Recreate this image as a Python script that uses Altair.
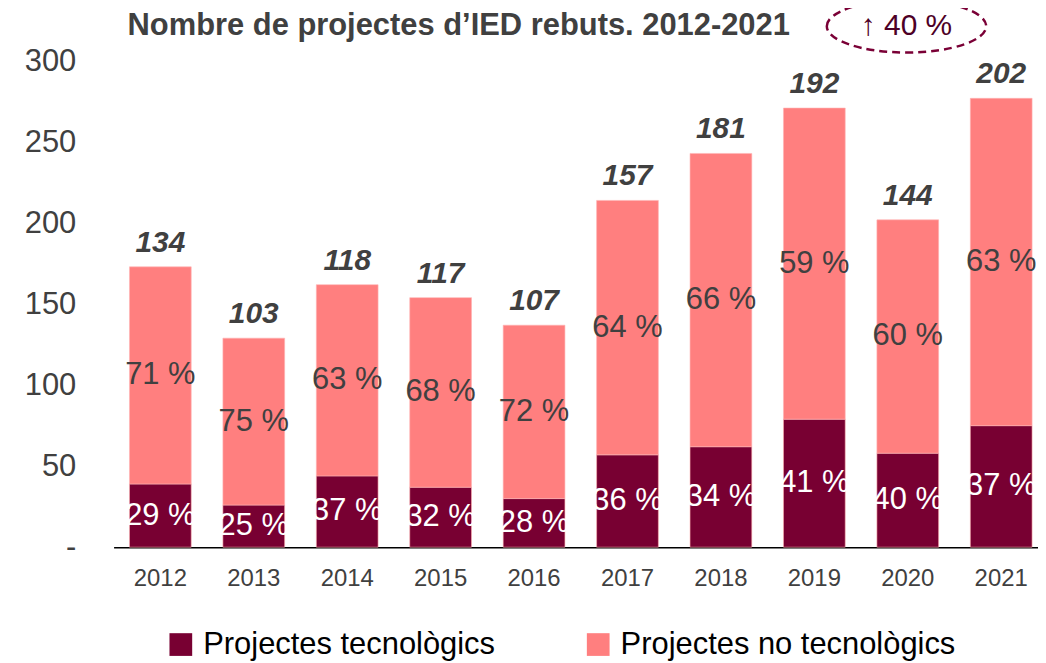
import altair as alt
import pandas as pd

years = ["2012", "2013", "2014", "2015", "2016", "2017", "2018", "2019", "2020", "2021"]
totals = [134, 103, 118, 117, 107, 157, 181, 192, 144, 202]
tech_counts = [39, 26, 44, 37, 30, 57, 62, 79, 58, 75]
tech_pct = ["29 %", "25 %", "37 %", "32 %", "28 %", "36 %", "34 %", "41 %", "40 %", "37 %"]
nontech_pct = ["71 %", "75 %", "63 %", "68 %", "72 %", "64 %", "66 %", "59 %", "60 %", "63 %"]
series_names = ["Projectes tecnològics", "Projectes no tecnològics"]
series_colors = ["#780032", "#ff7f7f"]
title_text = "Nombre de projectes d\u2019IED rebuts. 2012-2021"
badge_text = "\u2191 40 %"
y_ticks = [0, 50, 100, 150, 200, 250, 300]

FONT = "Liberation Sans"
GREY = "#404040"

rows = []
for yr, tot, tc, tp, npct in zip(years, totals, tech_counts, tech_pct, nontech_pct):
    rows.append({"year": yr, "series": series_names[0], "y0": 0, "y1": tc,
                 "mid": tc / 2, "pct": tp})
    rows.append({"year": yr, "series": series_names[1], "y0": tc, "y1": tc + tot,
                 "mid": tc + tot / 2, "pct": npct})
long_df = pd.DataFrame(rows)
tot_df = pd.DataFrame({"year": years, "total": totals,
                       "top": [a + b for a, b in zip(tech_counts, totals)]})

xscale = alt.Scale(domain=years, range=[0, 938], paddingInner=0.339, paddingOuter=0.17)
yscale = alt.Scale(domain=[0, 300], nice=False)

x_enc = alt.X("year:N", scale=xscale, sort=years,
              axis=alt.Axis(title=None, labelAngle=0, ticks=False, grid=False,
                            domainColor="#000000", domainWidth=1.5,
                            labelFontSize=24, labelColor=GREY, labelFont=FONT,
                            labelPadding=19))

bars = alt.Chart(long_df).mark_bar(stroke="#ffb3b3", strokeWidth=0.6).encode(
    x=x_enc,
    y=alt.Y("y1:Q", scale=yscale,
            axis=alt.Axis(title=None, values=y_ticks, grid=False, ticks=False, domain=False,
                          labelExpr="datum.value == 0 ? '-' : datum.label",
                          labelFontSize=31, labelColor=GREY, labelFont=FONT,
                          labelPadding=38)),
    y2="y0:Q",
    color=alt.Color("series:N", scale=alt.Scale(domain=series_names, range=series_colors),
                    sort=series_names,
                    legend=alt.Legend(title=None, orient="none", direction="horizontal",
                                      legendX=52, legendY=570, symbolType="square",
                                      symbolSize=520, symbolStrokeWidth=0,
                                      labelFontSize=31, labelFont=FONT, labelColor="#000000",
                                      labelLimit=600, columnPadding=88, labelOffset=7)),
)

pct_tech = alt.Chart(long_df).transform_filter(
    alt.datum.series == series_names[0]
).mark_text(fontSize=31, font=FONT, color="#ffffff", baseline="middle").encode(
    x=alt.X("year:N", scale=xscale, sort=years), y=alt.Y("mid:Q", scale=yscale), text="pct:N")

pct_non = alt.Chart(long_df).transform_filter(
    alt.datum.series == series_names[1]
).mark_text(fontSize=31, font=FONT, color=GREY, baseline="middle").encode(
    x=alt.X("year:N", scale=xscale, sort=years), y=alt.Y("mid:Q", scale=yscale), text="pct:N")

tot_labels = alt.Chart(tot_df).mark_text(
    fontSize=30, font=FONT, fontWeight="bold", fontStyle="italic", color=GREY,
    baseline="alphabetic", dy=-15
).encode(x=alt.X("year:N", scale=xscale, sort=years), y=alt.Y("top:Q", scale=yscale),
         text="total:Q")

ann_df = pd.DataFrame({"title": [title_text], "badge": [badge_text]})
title_mark = alt.Chart(ann_df).mark_text(
    fontSize=31, font=FONT, fontWeight="bold", color=GREY, align="left", baseline="middle"
).encode(x=alt.value(14), y=alt.value(-35), text="title:N")

ellipse = alt.Chart(ann_df).mark_point(
    shape="M -1 0 A 1 0.33 0 1 1 1 0 A 1 0.33 0 1 1 -1 0 Z",
    size=25600, filled=False, stroke="#7a0036", strokeWidth=2.5, strokeDash=[8, 5], opacity=1
).encode(x=alt.value(796), y=alt.value(-35))

badge = alt.Chart(ann_df).mark_text(
    fontSize=30, font=FONT, color="#4d0026", align="center", baseline="middle"
).encode(x=alt.value(796), y=alt.value(-35), text="badge:N")

chart = alt.layer(bars, pct_tech, pct_non, tot_labels, title_mark, ellipse, badge).properties(
    width=924, height=488,
    autosize=alt.AutoSizeParams(type="none"),
    padding={"left": 106, "top": 52, "right": 4, "bottom": 115},
).configure_view(stroke=None)

chart.save("out.html", embed_options={"renderer": "svg", "actions": False})
